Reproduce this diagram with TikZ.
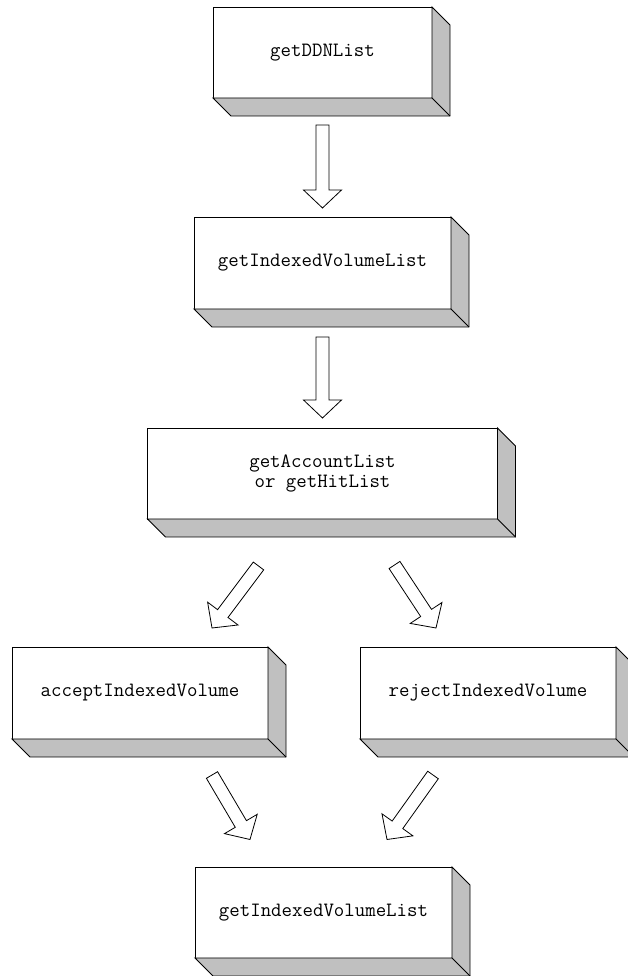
\documentclass[tikz,border=0pt]{standalone}
\usepackage{fontspec}
\usepackage{tikz}
\usetikzlibrary{calc, positioning}
\definecolor{slabgray}{RGB}{192,192,192}
% 3d sides of a box
\newcommand{\extrude}[1]{%
  \filldraw[face] (#1.south west) -- ([shift={(18,-18)}]#1.south west) -- ([shift={(18,-18)}]#1.south east)
    -- ([shift={(18,-18)}]#1.north east) -- (#1.north east) -- (#1.south east) -- cycle;
  \draw[face] (#1.south east) -- ([shift={(18,-18)}]#1.south east);}
% open block arrow from tail to tip
\newcommand{\hollowarrow}[2]{%
  \filldraw[hollow] let \p1=(#1), \p2=(#2), \n1={atan2(\y2-\y1,\x2-\x1)}, \n2={veclen(\x2-\x1,\y2-\y1)-18} in
    ($(\p1)+(\n1+90:6.5)$) -- ++(\n1:\n2) -- ++(\n1+90:12.5) -- (\p2)
    -- ($(\p2)+(\n1+180:18)+(\n1-90:19)$) -- ++(\n1+90:12.5) -- ($(\p1)+(\n1-90:6.5)$) -- cycle;}

\begin{document}
\begin{tikzpicture}[x=1pt, y=1pt,
  slab/.style={rectangle, draw, fill=white, line width=0.9pt, outer sep=0pt, align=center,
    font=\ttfamily\fontsize{20.3pt}{20pt}\selectfont},
  face/.style={fill=slabgray, draw=black, line width=0.9pt},
  hollow/.style={fill=white, draw=black, line width=0.8pt}]
\useasboundingbox (0,0) rectangle (627,976);
\node[slab, minimum width=219pt, minimum height=91pt] (DDN)  at (322.5,923.5)       {getDDNList};
\node[slab, minimum width=257pt, minimum height=92pt] (IDX)  [below=119pt of DDN]   {getIndexedVolumeList};
\node[slab, minimum width=350pt, minimum height=91pt] (ACCT) [below=119pt of IDX]   {getAccountList\\or getHitList};
\node[slab, minimum width=256pt, minimum height=92pt] (ACCEPT) at (140,283)         {acceptIndexedVolume};
\node[slab, minimum width=256pt, minimum height=92pt] (REJECT) at (488,283)         {rejectIndexedVolume};
\node[slab, minimum width=257pt, minimum height=91pt] (IDXB) at (323.5,63.5)        {getIndexedVolumeList};
\foreach \b in {DDN, IDX, ACCT, ACCEPT, REJECT, IDXB} {\extrude{\b}}

\hollowarrow{$(DDN.south)+(0,-27)$}{$(IDX.north)+(0,9)$}
\hollowarrow{$(IDX.south)+(0,-28)$}{$(ACCT.north)+(0,10)$}
\hollowarrow{$(ACCT.south)+(-64,-47)$}{$(ACCEPT.north)+(72,19)$}
\hollowarrow{$(ACCT.south)+(72,-46)$}{$(REJECT.north)+(-52,19)$}
\hollowarrow{$(ACCEPT.south)+(72,-36)$}{$(IDXB.north)+(-73.5,27.5)$}
\hollowarrow{$(REJECT.south)+(-55,-36)$}{$(IDXB.north)+(63.5,27.5)$}
\end{tikzpicture}
\end{document}
